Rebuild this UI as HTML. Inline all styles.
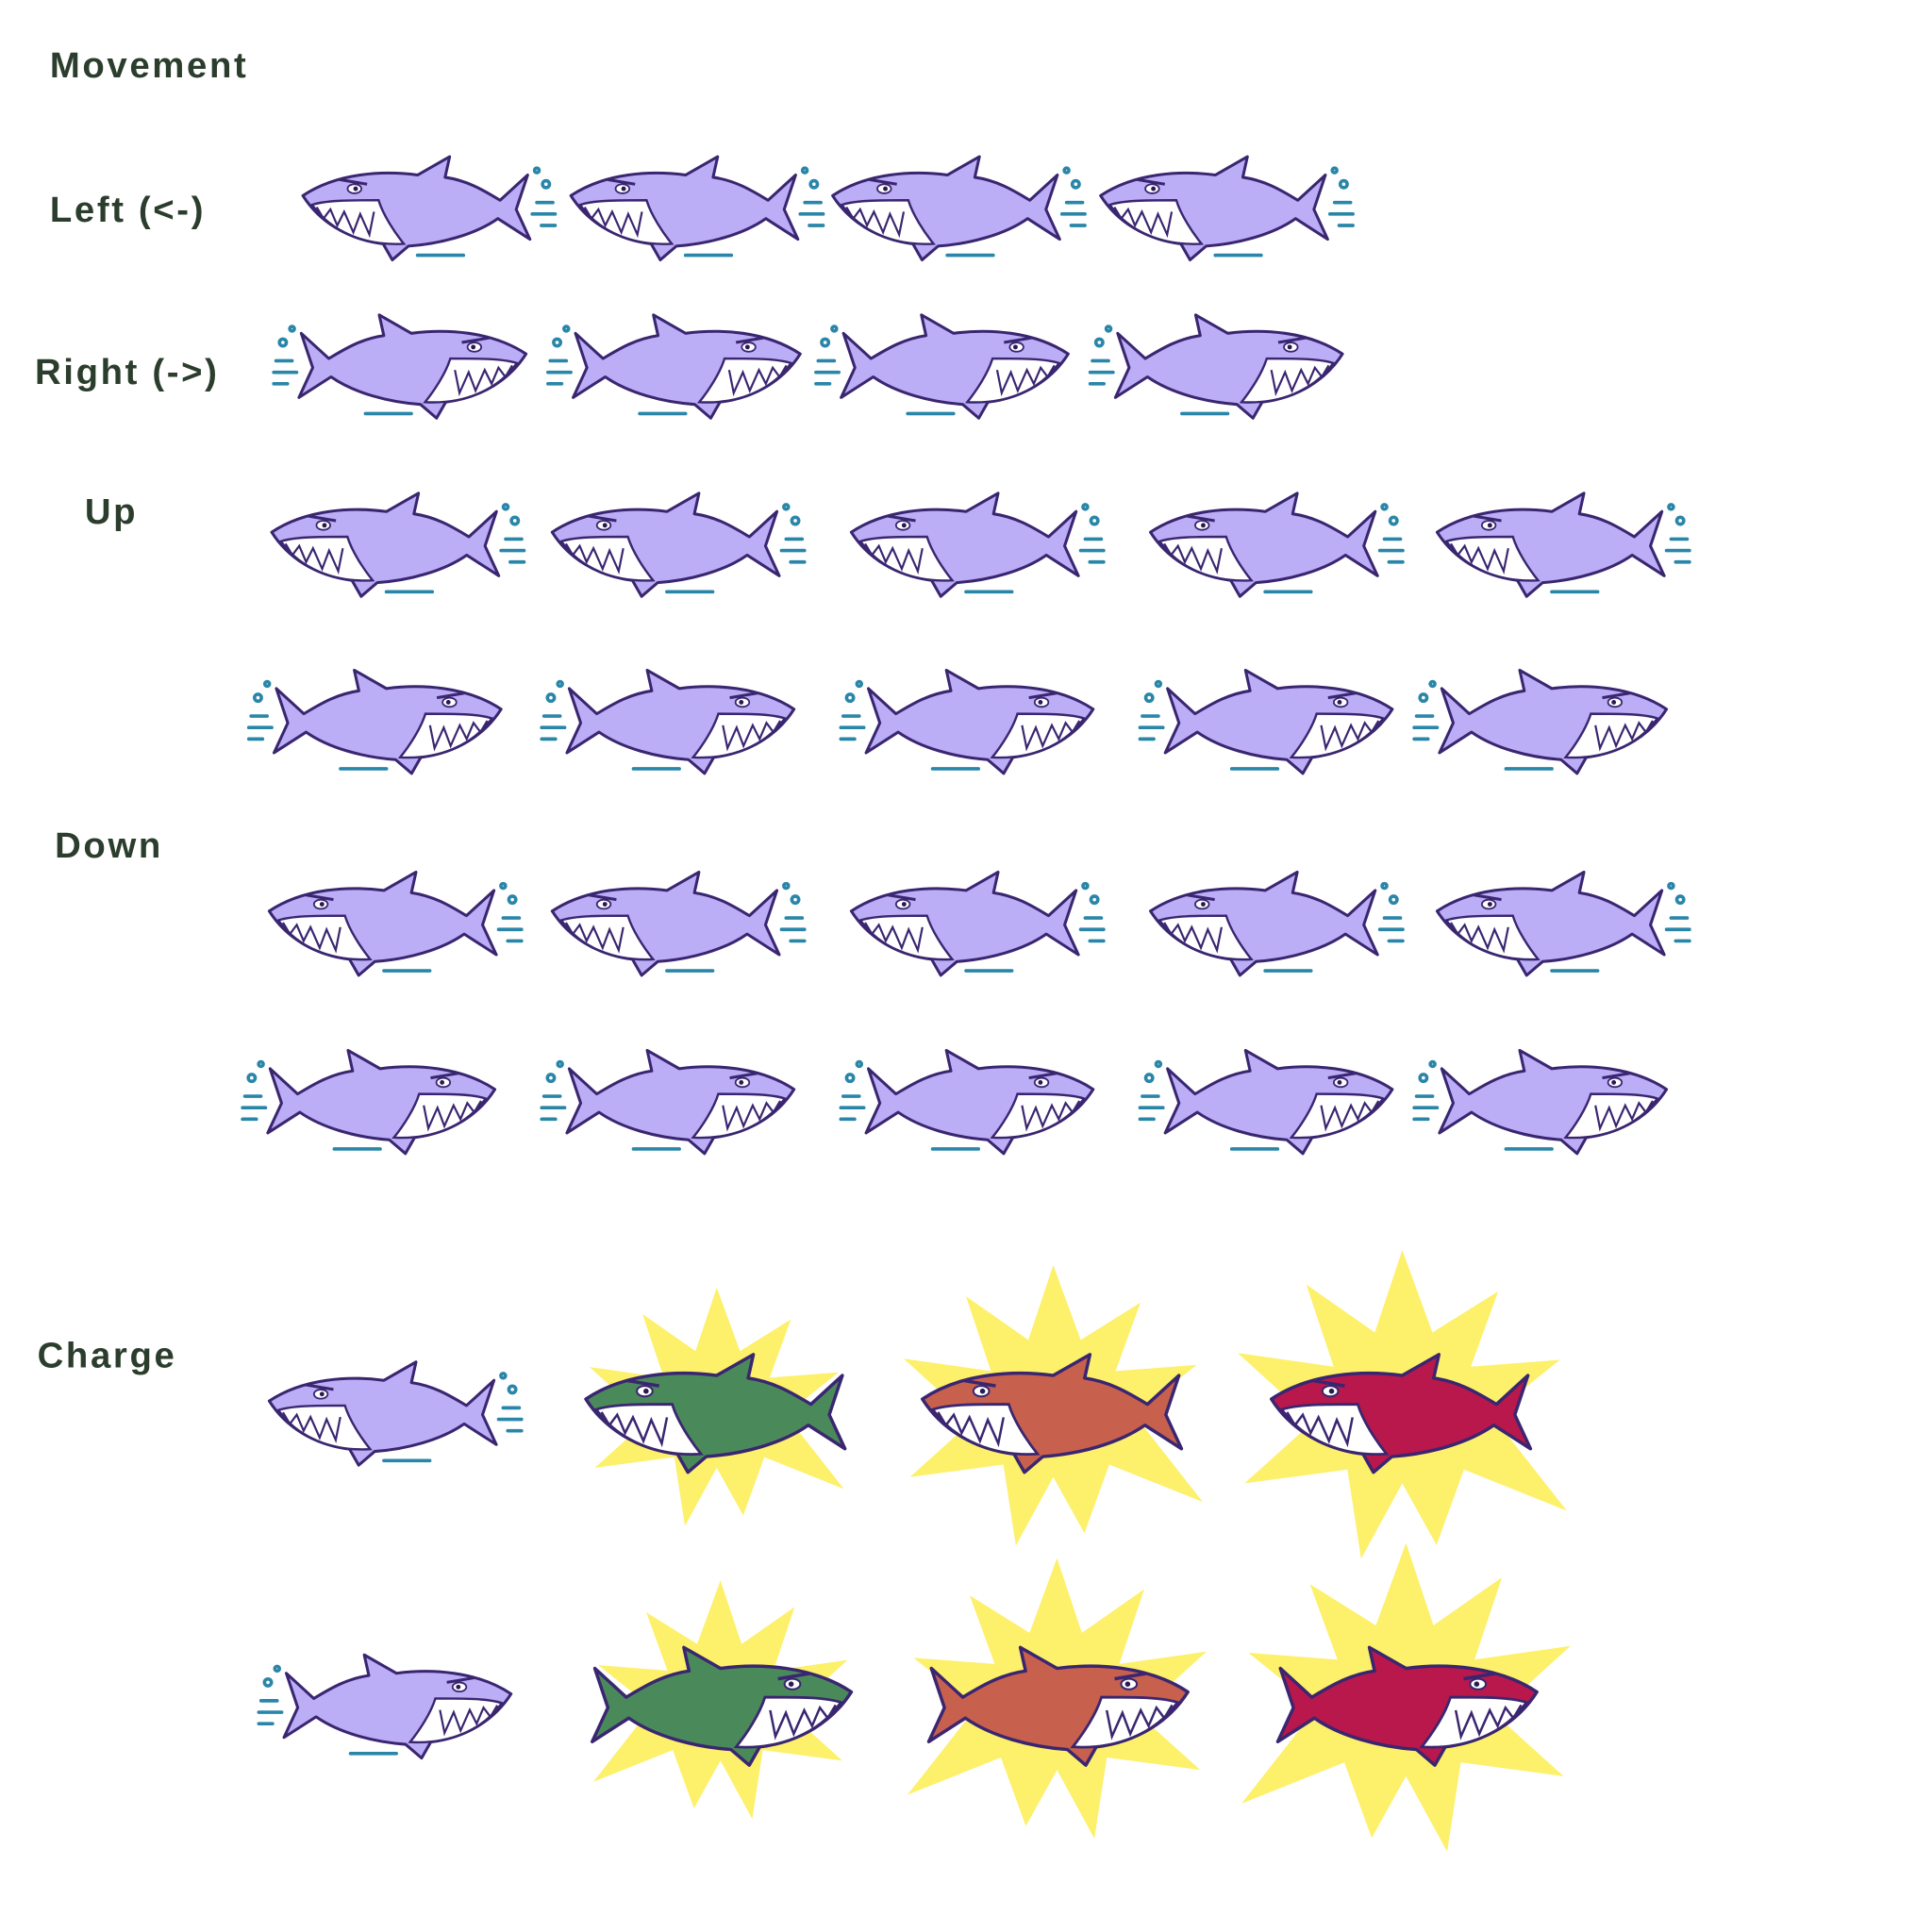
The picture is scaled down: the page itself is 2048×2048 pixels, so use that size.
<!DOCTYPE html>
<html><head><meta charset="utf-8"><style>
html,body{margin:0;padding:0;background:#fff;}
svg{display:block;}
text{font-family:"Liberation Sans",sans-serif;font-weight:bold;fill:#2b3d2c;letter-spacing:2px;font-size:29px;}
</style></head><body>
<svg id="s" width="2048" height="2048" viewBox="0 0 1550 1550" xmlns="http://www.w3.org/2000/svg">
<defs>
<g id="shark">
  <path d="M-100,-12 C-70,-32 -30,-34 0,-30 L28,-46 L24,-28 C45,-25 60,-15 72,-8 L96,-30 L86,0 L98,26 L70,8 C50,22 20,30 -8,32 L-22,44 L-30,30 C-62,26 -86,10 -100,-12 Z" stroke="#3a2670" stroke-width="2.5" stroke-linejoin="round"/>
  <path d="M-92,-4 C-75,20 -45,32 -12,30 C-20,20 -30,5 -34,-8 C-60,-8 -80,-8 -92,-4 Z" fill="#fff" stroke="#3a2670" stroke-width="2"/>
  <path d="M-88,-2 L-82,8 L-76,0 L-70,14 L-64,2 L-56,20 L-50,4 L-42,22 L-38,2" fill="none" stroke="#3a2670" stroke-width="1.8"/>
  <ellipse cx="-55" cy="-18" rx="6" ry="4" fill="#fff" stroke="#3a2670" stroke-width="1.5"/>
  <circle cx="-54" cy="-18" r="2" fill="#2a1a50"/>
  <path d="M-68,-26 L-44,-22" stroke="#3a2670" stroke-width="2.5"/>
</g>
<g id="splash" fill="none" stroke="#2a86a8" stroke-width="3" stroke-linecap="round">
  <path d="M104,-6 L118,-6 M100,4 L120,4 M108,14 L120,14 M0,40 L40,40"/>
  <circle cx="112" cy="-22" r="3"/><circle cx="104" cy="-34" r="2"/>
</g>
<polygon id="star" fill="#fdf06a" points="0,-120 22,-60 70,-90 50,-35 115,-40 65,0 120,70 45,40 25,95 0,50 -30,105 -40,40 -115,50 -65,5 -120,-45 -50,-35 -70,-95 -20,-60"/>
</defs>
<text x="40" y="62">Movement</text>
<text x="40" y="178">Left (&lt;-)</text>
<text x="28" y="308">Right (-&gt;)</text>
<text x="68" y="420">Up</text>
<text x="44" y="688">Down</text>
<text x="30" y="1097">Charge</text>
<g id="sharks"></g>
</svg>
<script>
const NS="http://www.w3.org/2000/svg";
const rows=[
 {y:168,dir:-1,xs:[335,550,760,975]},
 {y:295,dir:1,xs:[330,550,765,985]},
 {y:438,dir:-1,xs:[310,535,775,1015,1245]},
 {y:580,dir:1,xs:[310,545,785,1025,1245]},
 {y:742,dir:-1,xs:[308,535,775,1015,1245]},
 {y:885,dir:1,xs:[305,545,785,1025,1245]},
 {y:1135,dir:-1,xs:[308,575,845,1125],charge:true},
 {y:1370,dir:1,xs:[318,578,848,1128],charge:true}
];
const colors=["#bcaef6","#4a8a5a","#c8604e","#b8184c"];
const starScale=[0,0.85,1.0,1.1];
const g=document.getElementById('sharks');
rows.forEach((r,ri)=>{
 r.xs.forEach((x,i)=>{
  const grp=document.createElementNS(NS,'g');
  
  
  const flip=r.dir===1?-1:1;
  const sc=(r.charge&&i>0)?1.05:0.92;
  grp.setAttribute('transform',`translate(${x},${r.y}) scale(${flip*sc},${sc})`);
  const c=r.charge?colors[i]:colors[0];
  if(r.charge&&i>0){
   const st=document.createElementNS(NS,'use');
   st.setAttribute('href','#star');
   st.setAttribute('transform',`scale(${starScale[i]/sc})`);
   
   
   grp.appendChild(st);
  }
  if(!r.charge||i===0){
   const sp=document.createElementNS(NS,'use');
   sp.setAttribute('href','#splash');
   
   
   grp.appendChild(sp);
  }
  const sh=document.createElementNS(NS,'use');
  sh.setAttribute('href','#shark');
  sh.setAttribute('fill',c);
  
  
  grp.appendChild(sh);
  g.appendChild(grp);
 });
});
</script>
</body></html>
